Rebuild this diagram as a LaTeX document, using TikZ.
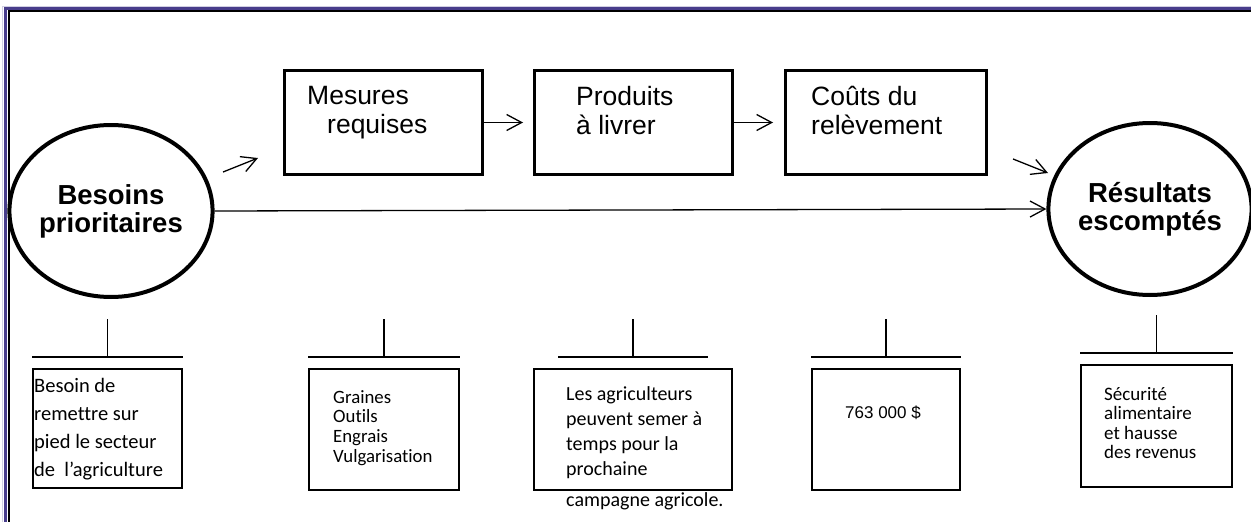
\documentclass[tikz,border=0pt]{standalone}
\usepackage{fontspec}
\setmainfont{Liberation Sans}
\newfontfamily\califont[Ligatures=NoCommon]{Carlito}
\usepackage{tikz}
\usetikzlibrary{shapes.geometric,arrows.meta}

\definecolor{framenavy}{RGB}{72,61,139}

\tikzset{
  goal/.style={ellipse, draw, line width=4pt, minimum width=196pt, minimum height=172pt, inner sep=0pt, align=center, font=\bfseries\fontsize{27.5}{28}\selectfont},
  stage/.style={draw, line width=3pt, minimum width=198pt, minimum height=104pt, inner sep=0pt},
  stagetext/.style={anchor=north west, inner sep=0pt, align=left, font=\fontsize{26.5}{29}\selectfont},
  note/.style={draw, line width=1.8pt, inner sep=0pt},
  notetext/.style={anchor=north west, inner sep=0pt, align=left},
  flow/.style={-{Straight Barb[length=15pt,width=16pt]}, line width=1.3pt},
  tee/.style={line width=1.8pt}
}

\begin{document}
\begin{tikzpicture}[x=1pt,y=-1pt]
    \useasboundingbox (0,0) rectangle (1251,522);
    \draw[framenavy!25, line width=1pt] (2.5,522) -- (2.5,6) -- (1251,6);
    \draw[framenavy, line width=3.3pt] (5.5,522) -- (5.5,8.5) -- (1251,8.5);
    \draw[line width=2.3pt] (8.7,522) -- (8.7,11.2) -- (1251,11.2);

    \node[goal] (bes) at (111,211) {Besoins\\prioritaires};
    \node[goal] (res) at (1150,209) {Résultats\\escomptés};

    \node[stage] (mes) at (383.5,122.5) {};
    \node[stage] (prod) at (633.5,122.5) {};
    \node[stage, minimum width=201pt] (cout) at (886,122.5) {};
    \node[stagetext] (mestxt) at (307,86) {Mesures\\\hspace*{20pt}requises};
    \node[stagetext] (prodtxt) at (576,86) {Produits\\à livrer};
    \node[stagetext] (couttxt) at (811,86) {Coûts du\\relèvement};

    \coordinate (up1) at (223,172);
    \coordinate (up2) at (258,158);
    \coordinate (dn1) at (1013,159);
    \coordinate (dn2) at (1048,173);
    \draw[flow] (up1) -- (up2);
    \draw[flow] (mes.east) -- ([xshift=-10pt]prod.west);
    \draw[flow] (prod.east) -- ([xshift=-11pt]cout.west);
    \draw[flow] (dn1) -- (dn2);
    \draw[flow] (bes.east) -- (res.west);

    \node[note, minimum width=149pt, minimum height=119pt] (bbes) at (107.5,428.5) {};
    \node[note, minimum width=150pt, minimum height=121pt] (bmes) at (384,429.5) {};
    \node[note, minimum width=198pt, minimum height=121pt] (bprod) at (633,429.5) {};
    \node[note, minimum width=148pt, minimum height=121pt] (bcout) at (886,429.5) {};
    \node[note, minimum width=151pt, minimum height=122pt] (bres) at (1156.5,426) {};

    \foreach \b/\w in {bbes/0,bmes/0,bprod/25,bcout/0,bres/0}{
        \draw[tee] ([xshift=\w pt,yshift=11pt]\b.north west) -- ([xshift=-\w pt,yshift=11pt]\b.north east);
        \draw[tee] ([yshift=11pt]\b.north) -- ([yshift=49pt]\b.north);
    }

    \node[notetext, font=\califont\fontsize{20.5}{28}\selectfont] (bbestxt) at (34,378) {Besoin de\\remettre sur\\pied le secteur\\de \ l’agriculture};
    \node[notetext, font=\califont\fontsize{18.8}{19.7}\selectfont] (bmestxt) at (333,390) {Graines\\Outils\\Engrais\\Vulgarisation};
    \node[notetext, font=\califont\fontsize{20}{25}\selectfont] (bprodtxt) at (566,386) {Les agriculteurs\\peuvent semer à\\temps pour la\\prochaine\\[6pt]campagne agricole.};
    \node[notetext, font=\fontsize{17}{20}\selectfont] (bcouttxt) at (845,406) {763 000 \$};
    \node[notetext, font=\califont\fontsize{19}{19.5}\selectfont] (brestxt) at (1104,387) {Sécurité\\alimentaire\\et hausse\\des revenus};
\end{tikzpicture}
\end{document}
